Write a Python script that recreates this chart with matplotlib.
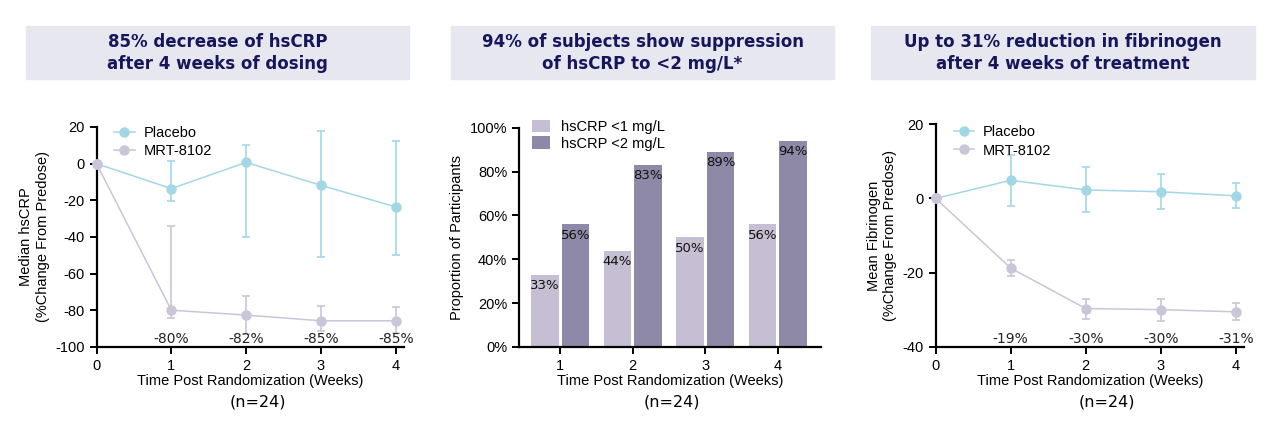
import numpy as np
import matplotlib
matplotlib.use("Agg")
import matplotlib.pyplot as plt
from matplotlib.patches import Rectangle
from matplotlib.lines import Line2D

plt.rcParams["font.family"] = ["Liberation Sans", "DejaVu Sans"]
plt.rcParams["axes.unicode_minus"] = False

# panel 1: median hsCRP
weeks = [0, 1, 2, 3, 4]
crp_placebo = [0, -13.6, 0.7, -11.8, -23.6]
crp_placebo_lo = [0, -20.3, -40.0, -50.8, -49.8]
crp_placebo_hi = [0, 1.3, 10.3, 17.9, 12.5]
crp_mrt = [0, -79.9, -82.6, -85.7, -85.7]
crp_mrt_lo = [0, -84.3, -93.0, -91.2, -92.5]
crp_mrt_hi = [0, -34.0, -72.0, -77.4, -78.3]
crp_labels = ["-80%", "-82%", "-85%", "-85%"]

# panel 2: proportion of participants
bar_weeks = [1, 2, 3, 4]
below_1 = [33, 44, 50, 56]
below_2 = [56, 83, 89, 94]

# panel 3: mean fibrinogen
fib_placebo = [0, 4.9, 2.3, 1.8, 0.7]
fib_placebo_lo = [0, -2.0, -3.7, -2.9, -2.5]
fib_placebo_hi = [0, 11.6, 8.4, 6.7, 4.1]
fib_mrt = [0, -18.8, -29.7, -30.0, -30.6]
fib_mrt_lo = [0, -21.0, -32.5, -33.0, -32.9]
fib_mrt_hi = [0, -16.5, -27.0, -27.0, -28.3]
fib_labels = ["-19%", "-30%", "-30%", "-31%"]

headers = ["85% decrease of hsCRP\nafter 4 weeks of dosing",
           "94% of subjects show suppression\nof hsCRP to <2 mg/L*",
           "Up to 31% reduction in fibrinogen\nafter 4 weeks of treatment"]

BLUE = "#a3d7e6"
LAV = "#cbc5d8"
LIGHT_BAR = "#c6bfd4"
DARK_BAR = "#8e89a7"
NAVY = "#16175a"

W, H = 1280, 434
fig = plt.figure(figsize=(W / 100, H / 100), dpi=100)


def fx(px):
    return px / W


def fy(py):
    return 1 - py / H


# header boxes
for (x0, x1), txt in zip([(26, 409), (451, 834), (871, 1255)], headers):
    fig.patches.append(Rectangle((fx(x0), fy(79)), fx(x1 - x0), (79 - 26) / H,
                                 transform=fig.transFigure, color="#e6e7ef", zorder=0))
    fig.text(fx((x0 + x1) / 2), fy(53), txt, ha="center", va="center",
             fontsize=12, fontweight="bold", color=NAVY, family="DejaVu Sans",
             linespacing=1.3)


def style(ax):
    for s in ["top", "right"]:
        ax.spines[s].set_visible(False)
    for s in ["left", "bottom"]:
        ax.spines[s].set_linewidth(1.6)
    ax.tick_params(width=1.4, length=5, labelsize=10.5, colors="black")
    ax.set_xlabel("Time Post Randomization (Weeks)", fontsize=10.5, labelpad=1)


def line_panel(ax, pl, pl_lo, pl_hi, mr, mr_lo, mr_hi, labels, lab_y, anchor):
    handles = []
    for y, lo, hi, c, name in [(pl, pl_lo, pl_hi, BLUE, "Placebo"),
                               (mr, mr_lo, mr_hi, LAV, "MRT-8102")]:
        y = np.array(y)
        err = [y - np.array(lo), np.array(hi) - y]
        ax.errorbar(weeks, y, yerr=err, color=c, marker="o", markersize=6.5,
                    lw=1.1, elinewidth=1.2, capsize=3, capthick=1.2,
                    clip_on=False, zorder=3)
        handles.append(Line2D([], [], color=c, marker="o", markersize=6.5,
                              lw=1.1, label=name))
    for w, t in zip(weeks[1:], labels):
        ax.text(w, lab_y, t, ha="center", va="center", fontsize=10,
                color="#222222", family="DejaVu Sans", zorder=4)
    ax.set_xlim(0, 4.11)
    ax.set_xticks(weeks)
    ax.legend(handles=handles, loc="upper left", bbox_to_anchor=anchor,
              frameon=False, fontsize=10.5, handlelength=1.4,
              handletextpad=0.6, labelspacing=0.3)
    style(ax)


# panel 1
ax1 = fig.add_axes([fx(96.5), fy(347), fx(404 - 96.5), (347 - 127) / H])
line_panel(ax1, crp_placebo, crp_placebo_lo, crp_placebo_hi,
           crp_mrt, crp_mrt_lo, crp_mrt_hi, crp_labels, -95.7, (0.015, 1.064))
ax1.set_ylim(-100, 20)
ax1.set_yticks([20, 0, -20, -40, -60, -80, -100])
ax1.set_ylabel("Median hsCRP\n(%Change From Predose)", fontsize=10.5, labelpad=4)

# panel 2
ax2 = fig.add_axes([fx(519), fy(347), fx(821 - 519), (347 - 127.7) / H])
bx = np.array(bar_weeks)
ax2.bar(bx - 0.21, below_1, width=0.38, color=LIGHT_BAR, label="hsCRP <1 mg/L")
ax2.bar(bx + 0.21, below_2, width=0.38, color=DARK_BAR, label="hsCRP <2 mg/L")
for xs, vals in [(bx - 0.21, below_1), (bx + 0.21, below_2)]:
    for x, v in zip(xs, vals):
        ax2.text(x, v - 2, f"{v}%", ha="center", va="top", fontsize=9.5,
                 color="#111111", family="DejaVu Sans")
ax2.set_xlim(0.43, 4.6)
ax2.set_ylim(0, 100)
ax2.set_xticks(bar_weeks)
ax2.set_yticks([0, 20, 40, 60, 80, 100])
ax2.set_yticklabels([f"{v}%" for v in [0, 20, 40, 60, 80, 100]])
ax2.set_ylabel("Proportion of Participants", fontsize=10.5, labelpad=4)
ax2.legend(loc="upper left", bbox_to_anchor=(0.0, 1.094), frameon=False,
           fontsize=10.5, handlelength=1.25, handleheight=0.9,
           handletextpad=0.7, labelspacing=0.15)
style(ax2)

# panel 3
ax3 = fig.add_axes([fx(935.7), fy(346.7), fx(1244 - 935.7), (346.7 - 124.3) / H])
line_panel(ax3, fib_placebo, fib_placebo_lo, fib_placebo_hi,
           fib_mrt, fib_mrt_lo, fib_mrt_hi, fib_labels, -37.9, (0.017, 1.055))
ax3.set_ylim(-40, 20)
ax3.set_yticks([20, 0, -20, -40])
ax3.set_ylabel("Mean Fibrinogen\n(%Change From Predose)", fontsize=10.5, labelpad=4)

for xc in [258, 672, 1107]:
    fig.text(fx(xc), fy(402), "(n=24)", ha="center", va="center", fontsize=11.5,
             family="DejaVu Sans")

fig.savefig("out.png", dpi=100)
